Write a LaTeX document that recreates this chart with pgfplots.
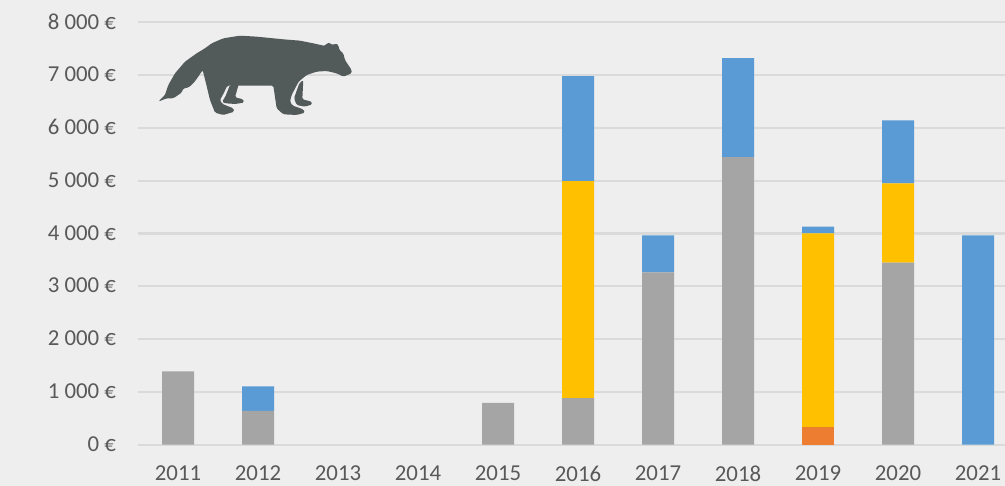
\documentclass[border=0pt]{standalone}
\usepackage{pgfplots}
\pgfplotsset{compat=1.18}
\usepackage{pgfplotstable}
\usepackage{fontspec}
\setmainfont{Carlito}
\definecolor{bg}{HTML}{EEEEEE}
\definecolor{gridc}{HTML}{DADADA}
\definecolor{txt}{HTML}{595959}
\definecolor{cgray}{HTML}{A5A5A5}
\definecolor{cblue}{HTML}{5B9BD5}
\definecolor{cyel}{HTML}{FFC000}
\definecolor{corg}{HTML}{ED7D31}
\definecolor{animal}{HTML}{535A5A}
\pgfplotstableread{
x orange gray yellow blue
0 0 1390 0 0
1 0 640 0 465
2 0 0 0 0
3 0 0 0 0
4 0 790 0 0
5 0 880 4110 1990
6 0 3265 0 700
7 0 5445 0 1875
8 330 0 3670 130
9 0 3450 1500 1190
10 0 0 0 3965
}\datatable
\begin{document}
\begin{tikzpicture}[x=1pt,y=1pt]
\useasboundingbox (0,0) rectangle (1005,486);
\fill[bg] (0,0) rectangle (1005,486);
\begin{axis}[
  at={(138pt,41.3pt)},anchor=south west,
  scale only axis,width=867pt,height=422.4pt,
  xmin=-0.5,xmax=10.3375,ymin=0,ymax=8000,
  ybar stacked,bar width=32pt,
  axis line style={draw=none},
  major tick length=0pt,
  clip=false,
  ymajorgrids=true,
  grid style={gridc,line width=2.2pt},
  xtick={0,...,10},
  xticklabels={2011,2012,2013,2014,2015,2016,2017,2018,2019,2020,2021},
  ytick={0,1000,...,8000},
  yticklabels={0 €,1 000 €,2 000 €,3 000 €,4 000 €,5 000 €,6 000 €,7 000 €,8 000 €},
  tick label style={font=\fontsize{22.8}{25}\selectfont,text=txt},
  xticklabel style={yshift=-17.5pt},
  yticklabel style={xshift=-18.5pt,yshift=0.7pt},
  /pgf/number format/assume math mode=true,
]
\addplot[draw=none,fill=corg] table[x=x,y=orange]{\datatable};
\addplot[draw=none,fill=cgray] table[x=x,y=gray]{\datatable};
\addplot[draw=none,fill=cyel] table[x=x,y=yellow]{\datatable};
\addplot[draw=none,fill=cblue] table[x=x,y=blue]{\datatable};
\draw[gridc,line width=2.2pt] (axis cs:-0.5,0) -- (axis cs:10.3375,0);
\end{axis}
\begin{scope}[shift={(140,466)},x=0.3333pt,y=-0.3333pt,rounded corners=1.5pt]
\fill[animal] (490,180) -- (487,238) -- (515,245) -- (517,253) -- (495,260) -- (470,255) -- (462,235) -- (478,190) -- cycle;
\fill[animal] (297,190) -- (285,232) -- (310,238) -- (312,248) -- (285,252) -- (257,250) -- (246,246) -- (256,230) -- (270,195) -- cycle;
\fill[animal] (55,245) -- (75,225) -- (85,195) -- (105,160) -- (135,125) -- (170,100) -- (195,85) -- (215,70) -- (250,55) -- (300,47) -- (350,50) -- (400,55) -- (430,58) -- (480,62) -- (520,70) -- (555,78) -- (562,68) -- (572,70) -- (578,76) -- (588,70) -- (595,75) -- (598,90) -- (610,100) -- (615,120) -- (635,150) -- (635,160) -- (610,170) -- (590,160) -- (560,153) -- (530,155) -- (500,165) -- (476,185) -- (455,225) -- (450,245) -- (458,257) -- (490,268) -- (495,278) -- (470,285) -- (430,283) -- (410,265) -- (400,197) -- (262,197) -- (250,222) -- (240,240) -- (247,252) -- (280,265) -- (283,275) -- (250,285) -- (225,278) -- (210,240) -- (198,190) -- (188,150) -- (175,170) -- (160,190) -- (145,203) -- (130,205) -- (125,218) -- (100,235) -- (80,235) -- cycle;
\end{scope}
\end{tikzpicture}
\end{document}
